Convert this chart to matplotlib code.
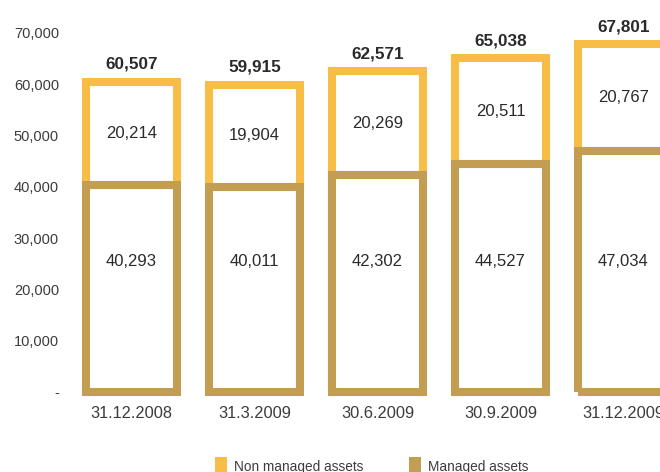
import matplotlib
matplotlib.use("Agg")
import matplotlib.pyplot as plt
from matplotlib.patches import Rectangle
from matplotlib.ticker import FuncFormatter, MultipleLocator

# Asset volumes per reporting date
dates = ["31.12.2008", "31.3.2009", "30.6.2009", "30.9.2009", "31.12.2009"]
managed = [40293, 40011, 42302, 44527, 47034]
non_managed = [20214, 19904, 20269, 20511, 20767]
totals = [60507, 59915, 62571, 65038, 67801]
series_names = ["Non managed assets", "Managed assets"]

ORANGE = "#F8BD46"
BROWN = "#C39E52"
TEXT = "#2a2a2a"
TICK = "#3c3c3c"

plt.rcParams["font.family"] = ["Liberation Sans", "DejaVu Sans"]

fig = plt.figure(figsize=(6.6, 4.72), dpi=100)
ax = fig.add_axes([70 / 660, 80 / 472, 590 / 660, 359 / 472])

x = list(range(len(dates)))
width = 0.74
lw = 5.8

# hollow stacked bars: managed at the bottom, non-managed on top
ax.bar(x, non_managed, bottom=managed, width=width, facecolor="white",
       edgecolor=ORANGE, linewidth=lw, joinstyle="miter", clip_on=False, zorder=2)
ax.bar(x, managed, width=width, facecolor="none",
       edgecolor=BROWN, linewidth=lw, joinstyle="miter", clip_on=False, zorder=3)

fmt = lambda v: f"{v:,.0f}"

for xi, m, n, t in zip(x, managed, non_managed, totals):
    ax.text(xi, m + n / 2, fmt(n), ha="center", va="center",
            fontsize=12, color=TEXT, zorder=4)
    ax.text(xi, 25500, fmt(m), ha="center", va="center",
            fontsize=12, color=TEXT, zorder=4)
    ax.annotate(fmt(t), (xi, t), xytext=(0, 7), textcoords="offset points",
                ha="center", va="bottom", fontsize=12.3, fontweight="bold",
                color=TEXT, zorder=4)

ax.set_xlim(-0.5, 4.297)
ax.set_ylim(0, 70000)
ax.yaxis.set_major_locator(MultipleLocator(10000))
ax.yaxis.set_major_formatter(FuncFormatter(lambda v, p: "-" if v == 0 else f"{v:,.0f}"))
ax.set_xticks(x)
ax.set_xticklabels(dates)
ax.tick_params(axis="y", length=0, pad=8, labelsize=10.5, labelcolor=TICK)
ax.tick_params(axis="x", length=0, pad=10, labelsize=11.8, labelcolor=TICK)
for s in ax.spines.values():
    s.set_visible(False)

# legend along the lower edge
W, H = 660, 472
for px, name, col in [(215, series_names[0], ORANGE), (409, series_names[1], BROWN)]:
    fig.patches.append(Rectangle((px / W, -4 / H), 12 / W, 19 / H,
                                 transform=fig.transFigure, facecolor=col,
                                 edgecolor="none"))
    fig.text((px + 19) / W, 1.5 / H, name, ha="left", va="baseline",
             fontsize=9.8, color=TICK)

fig.savefig("out.png", dpi=100)
